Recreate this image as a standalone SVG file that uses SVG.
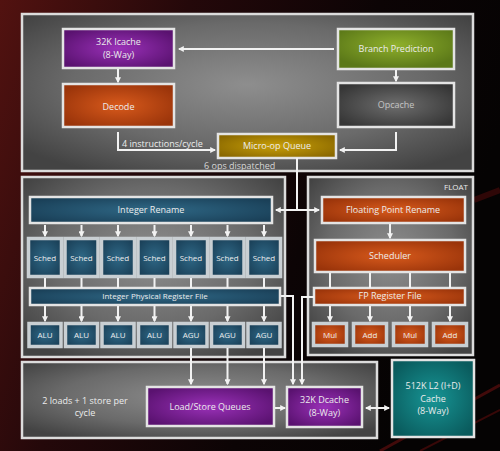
<svg xmlns="http://www.w3.org/2000/svg" width="500" height="451" viewBox="0 0 500 451">
<defs>
<linearGradient id="bg" x1="0" y1="0" x2="1" y2="0.3">
<stop offset="0" stop-color="#521210"/>
<stop offset="0.35" stop-color="#24080a"/>
<stop offset="0.7" stop-color="#0c0405"/>
<stop offset="1" stop-color="#050303"/>
</linearGradient>
<radialGradient id="panel" cx="0.5" cy="0.45" r="0.65">
<stop offset="0" stop-color="#8e8e8e"/>
<stop offset="0.6" stop-color="#6a6a6a"/>
<stop offset="1" stop-color="#434343"/>
</radialGradient>
<radialGradient id="purple" cx="0.5" cy="0.5" r="0.6">
<stop offset="0" stop-color="#9a31b8"/>
<stop offset="1" stop-color="#5a1270"/>
</radialGradient>
<radialGradient id="orange" cx="0.5" cy="0.5" r="0.6">
<stop offset="0" stop-color="#d85a1c"/>
<stop offset="1" stop-color="#9a340a"/>
</radialGradient>
<radialGradient id="green" cx="0.5" cy="0.4" r="0.6">
<stop offset="0" stop-color="#8fb02c"/>
<stop offset="1" stop-color="#5b7818"/>
</radialGradient>
<radialGradient id="gray" cx="0.5" cy="0.5" r="0.6">
<stop offset="0" stop-color="#6e6e6e"/>
<stop offset="1" stop-color="#363636"/>
</radialGradient>
<radialGradient id="gold" cx="0.5" cy="0.5" r="0.6">
<stop offset="0" stop-color="#c9a008"/>
<stop offset="1" stop-color="#8a6800"/>
</radialGradient>
<radialGradient id="blue" cx="0.5" cy="0.5" r="0.6">
<stop offset="0" stop-color="#2f6886"/>
<stop offset="1" stop-color="#1a4058"/>
</radialGradient>
<radialGradient id="teal" cx="0.5" cy="0.5" r="0.6">
<stop offset="0" stop-color="#179595"/>
<stop offset="1" stop-color="#0a5b5d"/>
</radialGradient>
<marker id="ah" viewBox="0 0 10 10" refX="8" refY="5" markerWidth="3" markerHeight="3" orient="auto-start-reverse">
<path d="M0,0 L10,5 L0,10 z" fill="#f2f2f2"/>
</marker>
<style>
.panel{fill:url(#panel);stroke:#dcdcdc;stroke-width:2.5}
.box{stroke:#e4e4e4;stroke-width:2.5}
.sb{stroke:#c9cfd3;stroke-width:3.5}
.t{font-family:"Open Sans","Liberation Sans",sans-serif;font-size:9px;fill:#ececec;text-anchor:middle}
.s{font-size:8px}
.w{stroke:#f2f2f2;stroke-width:2;fill:none}
.a{stroke:#f2f2f2;stroke-width:2;fill:none;marker-end:url(#ah)}
</style>
</defs>
<rect width="500" height="451" fill="url(#bg)"/>
<path d="M380,451 L500,385" stroke="#6a1010" stroke-width="3" opacity="0.6"/>
<path d="M420,451 L500,410" stroke="#5a0c0c" stroke-width="2" opacity="0.6"/>
<path d="M474,200 L500,190" stroke="#5a0c0c" stroke-width="6" opacity="0.5"/>

<g id="frontend"><rect class="panel" x="22" y="14" width="451" height="157"/></g>
<g id="integer"><rect class="panel" x="22" y="177" width="263" height="180"/></g>
<g id="float"><rect class="panel" x="308" y="177" width="165" height="178"/>
<text class="t s" x="468" y="190" style="text-anchor:end">FLOAT</text></g>
<g id="loadstore"><rect class="panel" x="22" y="362" width="355" height="76"/>
<text class="t" x="85" y="404">2 loads + 1 store per</text>
<text class="t" x="85" y="416">cycle</text></g>

<g id="icache"><rect class="box" x="63" y="29" width="111" height="39" fill="url(#purple)"/>
<text class="t" x="118.5" y="45">32K Icache</text><text class="t" x="118.5" y="57.5">(8-Way)</text></g>
<g id="decode"><rect class="box" x="63" y="84" width="111" height="43" fill="url(#orange)"/>
<text class="t" x="118.5" y="110">Decode</text></g>
<g id="branch"><rect class="box" x="338" y="29" width="116" height="40" fill="url(#green)"/>
<text class="t" x="396" y="52">Branch Prediction</text></g>
<g id="opcache"><rect class="box" x="338" y="83" width="116" height="44" fill="url(#gray)"/>
<text class="t" x="396" y="108" style="fill:#c4c4c4">Opcache</text></g>
<g id="microop"><rect class="box" x="218" y="134" width="118" height="24" fill="url(#gold)"/>
<text class="t" x="277" y="149">Micro-op Queue</text></g>

<g id="intrename"><rect class="box" x="30" y="197" width="242" height="26" fill="url(#blue)"/>
<text class="t" x="151" y="213">Integer Rename</text></g>
<g id="sched"><g fill="url(#blue)">
<rect class="sb" x="28.5" y="238.5" width="33" height="38"/>
<rect class="sb" x="65" y="238.5" width="33" height="38"/>
<rect class="sb" x="101.5" y="238.5" width="33" height="38"/>
<rect class="sb" x="138" y="238.5" width="33" height="38"/>
<rect class="sb" x="174.5" y="238.5" width="33" height="38"/>
<rect class="sb" x="211" y="238.5" width="33" height="38"/>
<rect class="sb" x="247.5" y="238.5" width="33" height="38"/></g>
<text class="t s" x="45" y="260.5">Sched</text><text class="t s" x="81.5" y="260.5">Sched</text>
<text class="t s" x="118" y="260.5">Sched</text><text class="t s" x="154.5" y="260.5">Sched</text>
<text class="t s" x="191" y="260.5">Sched</text><text class="t s" x="227.5" y="260.5">Sched</text>
<text class="t s" x="264" y="260.5">Sched</text></g>
<g id="iprf"><rect class="box" x="30" y="288" width="250" height="17" fill="url(#blue)"/>
<text class="t s" x="155" y="299">Integer Physical Register File</text></g>
<g id="alus"><g fill="url(#blue)">
<rect class="sb" x="29" y="323.5" width="32" height="23"/>
<rect class="sb" x="65.5" y="323.5" width="32" height="23"/>
<rect class="sb" x="102" y="323.5" width="32" height="23"/>
<rect class="sb" x="138.5" y="323.5" width="32" height="23"/>
<rect class="sb" x="175" y="323.5" width="32" height="23"/>
<rect class="sb" x="211.5" y="323.5" width="32" height="23"/>
<rect class="sb" x="248" y="323.5" width="32" height="23"/></g>
<text class="t s" x="45" y="338">ALU</text><text class="t s" x="81.5" y="338">ALU</text>
<text class="t s" x="118" y="338">ALU</text><text class="t s" x="154.5" y="338">ALU</text>
<text class="t s" x="191" y="338">AGU</text><text class="t s" x="227.5" y="338">AGU</text>
<text class="t s" x="264" y="338">AGU</text></g>

<g id="fprename"><rect class="box" x="322" y="197" width="143" height="26" fill="url(#orange)"/>
<text class="t" x="393" y="213">Floating Point Rename</text></g>
<g id="fpsched"><rect class="box" x="315" y="240" width="150" height="32" fill="url(#orange)"/>
<text class="t" x="390" y="259">Scheduler</text></g>
<g id="fprf"><rect class="box" x="314" y="288" width="151" height="17" fill="url(#orange)"/>
<text class="t" x="390" y="299">FP Register File</text></g>
<g id="fpunits"><g fill="url(#orange)">
<rect class="sb" x="313.5" y="323.5" width="33" height="22"/>
<rect class="sb" x="353.5" y="323.5" width="33" height="22"/>
<rect class="sb" x="393.5" y="323.5" width="33" height="22"/>
<rect class="sb" x="433.5" y="323.5" width="33" height="22"/></g>
<text class="t s" x="330" y="337.5">Mul</text><text class="t s" x="370" y="337.5">Add</text>
<text class="t s" x="410" y="337.5">Mul</text><text class="t s" x="450" y="337.5">Add</text></g>

<g id="lsq"><rect class="box" x="147" y="387" width="127" height="39" fill="url(#purple)"/>
<text class="t" x="210" y="410">Load/Store Queues</text></g>
<g id="dcache"><rect class="box" x="287" y="387" width="75" height="40" fill="url(#purple)"/>
<text class="t" x="324.5" y="403">32K Dcache</text><text class="t" x="324.5" y="415.5">(8-Way)</text></g>
<g id="l2"><rect class="box" x="392" y="360" width="82" height="77" fill="url(#teal)"/>
<text class="t" x="433" y="389">512K L2 (I+D)</text><text class="t" x="433" y="401.5">Cache</text><text class="t" x="433" y="414">(8-Way)</text></g>

<g id="connectors">
<path class="a" d="M334,49 H179"/>
<path class="a" d="M118,69 V82"/>
<path class="a" d="M396,70 V81"/>
<path class="a" d="M118,132 V150 H215"/>
<path class="a" d="M396,132 V150 H340"/>
<text class="t" x="122" y="147" style="text-anchor:start">4 instructions/cycle</text>
<text class="t" x="204" y="168.5" style="text-anchor:start;fill:#d6d6d6">6 ops dispatched</text>
<path class="w" d="M297,158 V210"/>
<path class="a" d="M297,210 H276"/>
<path class="a" d="M297,210 H319"/>
<path class="a" d="M45,225 V236"/><path class="a" d="M81.5,225 V236"/><path class="a" d="M118,225 V236"/>
<path class="a" d="M154.5,225 V236"/><path class="a" d="M191,225 V236"/><path class="a" d="M227.5,225 V236"/>
<path class="a" d="M264,225 V236"/>
<path class="w" d="M45,278 V288 M81.5,278 V288 M118,278 V288 M154.5,278 V288 M191,278 V288 M227.5,278 V288 M264,278 V288"/>
<path class="a" d="M45,306 V321"/><path class="a" d="M81.5,306 V321"/><path class="a" d="M118,306 V321"/>
<path class="a" d="M154.5,306 V321"/><path class="a" d="M191,306 V321"/><path class="a" d="M227.5,306 V321"/>
<path class="a" d="M264,306 V321"/>
<path class="a" d="M191,348 V384"/><path class="a" d="M227.5,348 V384"/><path class="a" d="M264,348 V384"/>
<path class="a" d="M281,296 H293 V384"/>
<path class="a" d="M314,297 H302 V384"/>
<path class="a" d="M390,224 V238"/>
<path class="w" d="M330,273 V288 M370,273 V288 M410,273 V288 M450,273 V288"/>
<path class="a" d="M330,306 V321"/><path class="a" d="M370,306 V321"/>
<path class="a" d="M410,306 V321"/><path class="a" d="M450,306 V321"/>
<path class="a" d="M275,408 H285"/>
<path class="a" d="M377,408 H366"/>
<path class="a" d="M377,408 H389"/>
</g>
</svg>
